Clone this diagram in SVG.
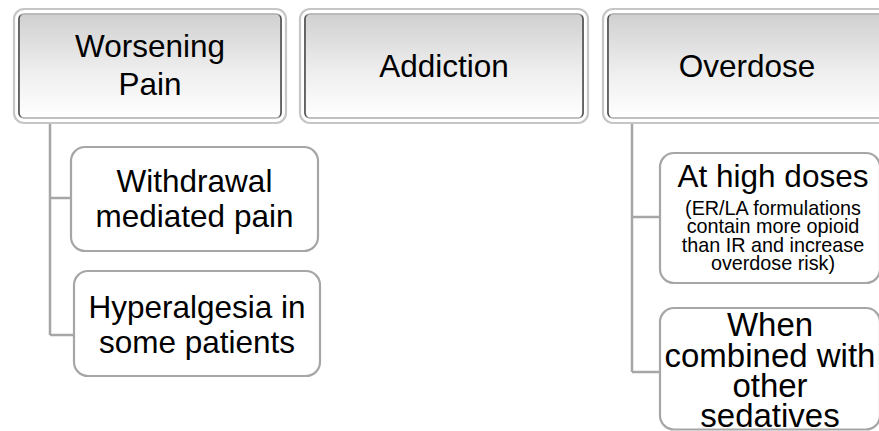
<svg xmlns="http://www.w3.org/2000/svg" width="879" height="431" viewBox="0 0 879 431">
  <defs>
    <!-- bevelled header fill: grey at the top fading to white -->
    <linearGradient id="headFill" x1="0" y1="0" x2="0" y2="1">
      <stop offset="0" stop-color="#d0d0d0"/>
      <stop offset="0.55" stop-color="#eeeeee"/>
      <stop offset="1" stop-color="#ffffff"/>
    </linearGradient>
    <!-- inner edge: dark on the left and right sides -->
    <linearGradient id="headEdge" x1="0" y1="0" x2="1" y2="0">
      <stop offset="0" stop-color="#3c3c3c"/>
      <stop offset="0.012" stop-color="#ababab"/>
      <stop offset="0.988" stop-color="#ababab"/>
      <stop offset="1" stop-color="#3c3c3c"/>
    </linearGradient>
  </defs>
  <style>
    .frame { fill: #ffffff; stroke: #c6c6c6; stroke-width: 2.2; }
    .panel { fill: url(#headFill); stroke: url(#headEdge); stroke-width: 1.6; }
    .child { fill: #ffffff; stroke: #a6a6a6; stroke-width: 2.2; }
    .link { fill: none; stroke: #a6a6a6; stroke-width: 2.5; }
    text { font-family: "Liberation Sans", Arial, sans-serif; fill: #000000; text-anchor: middle; }
    .big { font-size: 31.5px; }
    .bigger { font-size: 33px; }
    .small { font-size: 19.8px; }
  </style>

  <rect width="879" height="431" fill="#ffffff"/>

  <!-- connectors -->
  <g id="connectors">
    <path class="link" d="M50,123 V335 M50,198 H71 M50,335 H74"/>
    <path class="link" d="M632,123 V372 M632,217 H660 M632,372 H660"/>
  </g>

  <!-- header: Worsening Pain -->
  <g id="worsening-pain">
    <rect class="frame" x="14" y="9" width="272" height="114" rx="10"/>
    <rect class="panel" x="19" y="14" width="262" height="104" rx="5"/>
    <text class="big" x="150" y="57">Worsening</text>
    <text class="big" x="150" y="95">Pain</text>
  </g>

  <!-- header: Addiction -->
  <g id="addiction">
    <rect class="frame" x="300" y="9" width="288" height="114" rx="10"/>
    <rect class="panel" x="305" y="14" width="278" height="104" rx="5"/>
    <text class="big" x="444" y="77">Addiction</text>
  </g>

  <!-- header: Overdose -->
  <g id="overdose">
    <rect class="frame" x="603" y="9" width="288" height="114" rx="10"/>
    <rect class="panel" x="608" y="14" width="278" height="104" rx="5"/>
    <text class="big" x="747" y="77">Overdose</text>
  </g>

  <!-- children of Worsening Pain -->
  <g id="withdrawal-pain">
    <rect class="child" x="71" y="147" width="247" height="104" rx="14"/>
    <text class="big" x="194.5" y="191.5">Withdrawal</text>
    <text class="big" x="194.5" y="226.5">mediated pain</text>
  </g>

  <g id="hyperalgesia">
    <rect class="child" x="74" y="271" width="246" height="105" rx="14"/>
    <text class="big" x="197" y="318">Hyperalgesia in</text>
    <text class="big" x="197" y="353">some patients</text>
  </g>

  <!-- children of Overdose -->
  <g id="high-doses">
    <rect class="child" x="660" y="153" width="220" height="130" rx="14"/>
    <text class="big" x="773" y="186.5">At high doses</text>
    <text class="small" x="773" y="214.5">(ER/LA formulations</text>
    <text class="small" x="773" y="233">contain more opioid</text>
    <text class="small" x="773" y="251.5">than IR and increase</text>
    <text class="small" x="773" y="270">overdose risk)</text>
  </g>

  <g id="sedatives">
    <rect class="child" x="660" y="308" width="220" height="121.5" rx="14"/>
    <text class="bigger" x="770" y="336">When</text>
    <text class="bigger" x="770" y="366.5">combined with</text>
    <text class="bigger" x="770" y="397">other</text>
    <text class="bigger" x="770" y="427">sedatives</text>
  </g>
</svg>
